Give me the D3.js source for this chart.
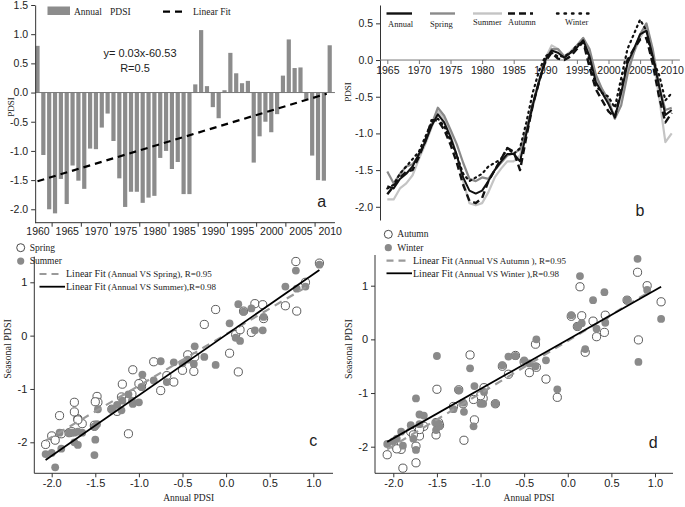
<!DOCTYPE html>
<html><head><meta charset="utf-8">
<script src="https://cdn.jsdelivr.net/npm/d3@7"></script>
<style>body{margin:0;background:#fff}svg{display:block}</style>
</head><body>
<svg id="chart" width="685" height="507"></svg>
<script>
// ---------------- DATA ----------------
const years = [1960,1961,1962,1963,1964,1965,1966,1967,1968,1969,1970,1971,1972,1973,1974,1975,1976,1977,1978,1979,1980,1981,1982,1983,1984,1985,1986,1987,1988,1989,1990,1991,1992,1993,1994,1995,1996,1997,1998,1999,2000,2001,2002,2003,2004,2005,2006,2007,2008,2009,2010];
const annualPDSI = [0.80,-1.07,-2.00,-2.07,-1.48,-1.91,-1.25,-1.51,-1.65,-0.96,-0.97,-0.60,-0.36,-0.83,-1.47,-1.96,-1.70,-1.70,-1.89,-1.80,-1.77,-1.12,-1.00,-1.31,-1.19,-1.74,-1.74,0.14,1.07,0.11,-0.25,-0.44,0.04,0.68,0.33,0.16,0.20,-1.20,-0.75,-0.50,-0.68,-0.37,0.29,0.91,0.42,0.43,-0.12,-1.08,-1.50,-1.51,0.81];
const fitYearsA = [1960, 2009.5];
const fitValuesA = [-1.52, -0.02];
const yearTicksA = [1960,1965,1970,1975,1980,1985,1990,1995,2000,2005,2010];

const yearsB = [1965,1966,1967,1968,1969,1970,1971,1972,1973,1974,1975,1976,1977,1978,1979,1980,1981,1982,1983,1984,1985,1986,1987,1988,1989,1990,1991,1992,1993,1994,1995,1996,1997,1998,1999,2000,2001,2002,2003,2004,2005,2006,2007,2008,2009,2010];
const annualB = [-1.72,-1.75,-1.62,-1.55,-1.45,-1.28,-1.12,-0.90,-0.74,-0.85,-1.05,-1.30,-1.60,-1.78,-1.82,-1.78,-1.65,-1.50,-1.38,-1.28,-1.28,-1.38,-1.00,-0.62,-0.30,0.00,0.13,0.10,0.03,0.10,0.17,0.27,0.05,-0.30,-0.45,-0.60,-0.78,-0.45,-0.05,0.15,0.35,0.40,0.05,-0.35,-0.75,-0.68];
const springB = [-1.52,-1.68,-1.55,-1.45,-1.42,-1.30,-1.12,-0.88,-0.65,-0.76,-0.95,-1.15,-1.40,-1.62,-1.65,-1.60,-1.62,-1.50,-1.40,-1.30,-1.27,-1.22,-0.95,-0.60,-0.28,-0.02,0.15,0.15,0.05,0.10,0.20,0.30,0.15,-0.20,-0.40,-0.55,-0.80,-0.62,-0.20,0.10,0.35,0.50,0.15,-0.35,-0.68,-0.65];
const summerB = [-1.90,-1.90,-1.75,-1.68,-1.57,-1.35,-1.15,-0.92,-0.70,-0.80,-1.02,-1.30,-1.65,-1.95,-1.98,-1.95,-1.80,-1.60,-1.48,-1.38,-1.38,-1.30,-1.00,-0.65,-0.30,0.02,0.20,0.15,0.05,0.12,0.20,0.30,0.10,-0.25,-0.40,-0.55,-0.80,-0.50,-0.15,0.10,0.30,0.45,0.05,-0.50,-1.12,-1.00];
const autumnB = [-1.83,-1.72,-1.60,-1.52,-1.50,-1.32,-1.10,-0.82,-0.82,-0.95,-1.15,-1.40,-1.70,-1.92,-1.95,-1.88,-1.65,-1.50,-1.35,-1.20,-1.25,-1.50,-1.05,-0.62,-0.30,-0.02,0.10,0.02,0.00,0.05,0.15,0.25,-0.10,-0.40,-0.55,-0.70,-0.78,-0.40,0.00,0.15,0.28,0.30,-0.05,-0.50,-0.85,-0.72];
const winterB = [-1.75,-1.70,-1.55,-1.45,-1.35,-1.25,-1.05,-0.85,-0.80,-0.90,-1.10,-1.30,-1.55,-1.65,-1.60,-1.55,-1.45,-1.40,-1.35,-1.20,-1.28,-1.20,-0.85,-0.45,-0.15,0.05,0.10,0.05,0.05,0.10,0.20,0.25,0.00,-0.35,-0.45,-0.50,-0.65,-0.25,0.15,0.35,0.55,0.40,0.00,-0.20,-0.55,-0.45];
const seriesNamesB = ["Annual","Spring","Summer","Autumn","Winter"];
const yearTicksB = [1965,1970,1975,1980,1985,1990,1995,2000,2005,2010];

const springPDSI = [1.39,-0.64,-1.88,-2.04,-1.14,-1.50,-1.42,-1.70,-1.65,-0.87,-0.95,-0.87,-0.40,-0.49,-1.25,-1.96,-1.56,-1.58,-1.84,-1.82,-1.80,-1.84,-0.90,-1.38,-0.91,-1.25,-1.43,-0.68,1.36,0.02,0.21,-0.36,-0.33,0.56,0.60,0.11,0.46,-1.15,-1.03,-0.65,-0.75,-0.67,0.06,1.00,0.58,0.32,0.49,-1.10,-1.24,-1.68,0.46];
const summerPDSI = [1.22,-1.28,-2.20,-2.22,-1.66,-1.82,-1.30,-2.24,-1.82,-0.73,-0.96,-0.50,-0.20,-0.84,-1.38,-2.47,-2.05,-1.80,-2.12,-1.82,-1.82,-1.10,-1.25,-1.38,-1.22,-2.00,-1.82,0.59,1.33,-0.04,-0.40,-0.45,0.23,0.92,0.10,-0.10,0.45,-1.40,-0.48,-0.52,-0.87,-0.53,0.51,0.92,0.10,0.35,-0.55,-1.22,-1.95,-1.70,0.88];
const autumnPDSI = [1.25,-1.50,-1.95,-2.15,-1.55,-2.05,-0.94,-1.78,-1.62,-0.90,-1.10,-0.30,-0.52,-1.20,-1.60,-2.04,-1.80,-1.68,-2.40,-1.72,-1.78,-0.29,-1.05,-1.25,-1.88,-2.30,-1.99,0.98,0.70,0.24,-0.74,-0.62,0.43,0.73,0.05,0.44,-0.24,-1.20,-0.50,-0.42,-0.65,-0.09,0.34,1.00,0.13,0.45,-1.08,-1.12,-0.93,-1.55,-0.01];
const winterPDSI = [1.50,-0.87,-1.90,-1.95,-1.57,-1.72,-0.95,-1.69,-1.42,-0.98,-1.20,-0.31,0.00,-1.20,-1.62,-1.85,-1.40,-1.58,-1.98,-1.60,-1.85,-0.54,-1.20,-1.30,-1.35,-2.06,-1.10,1.18,0.38,0.24,-0.39,-0.45,0.45,0.73,0.20,0.30,-0.18,-1.18,-0.48,-0.39,-0.32,-0.50,0.73,0.92,0.88,0.31,-0.93,-1.62,-0.31,-1.55,-0.42];

const fitSpringX = [-2.07, 0.97], fitSpringY = [-1.97, 0.96];
const fitSummerX = [-2.07, 1.07], fitSummerY = [-2.33, 1.23];
const fitAutumnX = [-2.07, 0.95], fitAutumnY = [-2.05, 0.90];
const fitWinterX = [-2.07, 1.07], fitWinterY = [-1.91, 0.98];
const scatterXTicks = [-2.0,-1.5,-1.0,-0.5,0.0,0.5,1.0];
const scatterYTicks = [-2,-1,0,1];

// ---------------- DRAWING ----------------
const SANS = "'Liberation Sans', Arial, sans-serif";
const SERIF = "'Liberation Serif', 'Times New Roman', serif";
const AX = "#333";
const svg = d3.select("#chart");
const f1 = d => d.toFixed(1);

function styleAxis(g, size) {
  g.selectAll("path").attr("stroke", AX).attr("stroke-width", 1);
  g.selectAll("line").attr("stroke", AX).attr("stroke-width", 1);
  g.selectAll("text").attr("font-family", SANS).attr("font-size", size || 10.5).attr("fill", "#222");
}
function txt(x, y, s, opt) {
  opt = opt || {};
  return svg.append("text").attr("x", x).attr("y", y).text(s)
    .attr("font-family", opt.font || SERIF).attr("font-size", opt.size || 9.5)
    .attr("text-anchor", opt.anchor || "start").attr("fill", opt.fill || "#222")
    .attr("transform", opt.rotate ? `rotate(-90,${x},${y})` : null);
}

// ===== Panel a =====
const xA = d3.scaleLinear().domain([1960, 2010]).range([37.5, 329.7]);
const yA = d3.scaleLinear().domain([-2.23, 1.5]).range([222.7, 5]);
const gA = svg.append("g");
gA.selectAll("rect.bar").data(annualPDSI).enter().append("rect")
  .attr("x", (d, i) => xA(years[i]) - 2.1).attr("width", 4.2)
  .attr("y", d => yA(Math.max(0, d))).attr("height", d => Math.abs(yA(d) - yA(0)))
  .attr("fill", "#8c8c8c");
gA.append("line").attr("x1", xA(1959.6)).attr("x2", xA(2010.9)).attr("y1", yA(0)).attr("y2", yA(0))
  .attr("stroke", "#777").attr("stroke-width", 1);
const axAy = gA.append("g").attr("transform", `translate(${xA(1959.6)},0)`)
  .call(d3.axisLeft(yA).tickValues([-2,-1.5,-1,-0.5,0,0.5,1,1.5]).tickFormat(f1).tickSize(4).tickSizeOuter(0));
styleAxis(axAy);
const axAx = gA.append("g").attr("transform", `translate(0,${yA(-2.23)})`)
  .call(d3.axisBottom(xA).tickValues(yearTicksA).tickFormat(d => d).tickSize(0).tickPadding(5));
axAx.select("path").remove();
styleAxis(axAx);
gA.append("g").attr("transform", `translate(0,${yA(-2.23)})`)
  .selectAll("line").data(yearTicksA.slice(0, -1)).enter().append("line")
  .attr("x1", d => xA(d + 2.5)).attr("x2", d => xA(d + 2.5)).attr("y1", 0).attr("y2", 4).attr("stroke", AX);
gA.append("line").attr("x1", xA(1959.6)).attr("x2", xA(2010.9)).attr("y1", yA(-2.23)).attr("y2", yA(-2.23)).attr("stroke", AX);
gA.append("line").attr("x1", xA(fitYearsA[0])).attr("y1", yA(fitValuesA[0]))
  .attr("x2", xA(fitYearsA[1])).attr("y2", yA(fitValuesA[1]))
  .attr("stroke", "#000").attr("stroke-width", 2.2).attr("stroke-dasharray", "7,5");
// legend a
svg.append("rect").attr("x", 47.5).attr("y", 6.5).attr("width", 22.5).attr("height", 8.5).attr("fill", "#8c8c8c");
txt(74, 15, "Annual");
txt(110, 15, "PDSI");
svg.append("line").attr("x1", 163).attr("x2", 186).attr("y1", 11.7).attr("y2", 11.7)
  .attr("stroke", "#000").attr("stroke-width", 2.2).attr("stroke-dasharray", "7,5");
txt(193, 15, "Linear Fit");
txt(140, 57, "y= 0.03x-60.53", {font: SANS, size: 11, anchor: "middle"});
txt(135, 72, "R=0.5", {font: SANS, size: 11, anchor: "middle"});
txt(321.7, 207, "a", {font: SANS, size: 16, anchor: "middle"});
txt(14, 107, "PDSI", {size: 9, anchor: "middle", rotate: true});

// ===== Panel b =====
const xB = d3.scaleLinear().domain([1965, 2010]).range([387.3, 671.7]);
const yB = d3.scaleLinear().domain([-2.18, 0.75]).range([220, 5]);
const gB = svg.append("g");
const axBy = gB.append("g").attr("transform", `translate(380,0)`)
  .call(d3.axisLeft(yB).tickValues([-2,-1.5,-1,-0.5,0,0.5]).tickFormat(f1).tickSize(4).tickSizeOuter(0));
styleAxis(axBy);
const axBx = gB.append("g").attr("transform", `translate(0,${yB(0)})`)
  .call(d3.axisBottom(xB).tickValues(yearTicksB).tickFormat(d => d).tickSize(4).tickSizeOuter(0).tickPadding(3));
axBx.select("path").remove();
styleAxis(axBx);
axBx.selectAll("line").attr("stroke", "#777");
gB.append("line").attr("x1", 380).attr("x2", xB(2011.3)).attr("y1", yB(0)).attr("y2", yB(0)).attr("stroke", "#777");
const lineB = d3.line().x((d, i) => xB(yearsB[i])).y(d => yB(d));
const specB = [
  {data: summerB, color: "#c4c4c4", dash: null, w: 2.2},
  {data: springB, color: "#8a8a8a", dash: null, w: 2.2},
  {data: winterB, color: "#111", dash: "1.5,4", w: 2.2, cap: "round"},
  {data: autumnB, color: "#111", dash: "7,4", w: 2.4},
  {data: annualB, color: "#111", dash: null, w: 2}
];
specB.forEach(s => {
  gB.append("path").datum(s.data).attr("d", lineB).attr("fill", "none")
    .attr("stroke", s.color).attr("stroke-width", s.w).attr("stroke-dasharray", s.dash)
    .attr("stroke-linecap", s.cap || "butt").attr("stroke-linejoin", "round");
});
// legend b
const legB = [
  {x1: 386.5, x2: 412, color: "#111", dash: null, tx: 388, ty: 27},
  {x1: 430, x2: 455, color: "#8a8a8a", dash: null, tx: 430, ty: 27},
  {x1: 473, x2: 502, color: "#c4c4c4", dash: null, tx: 473, ty: 25},
  {x1: 508, x2: 533, color: "#111", dash: "7,4", tx: 508, ty: 25},
  {x1: 557, x2: 593, color: "#111", dash: "1.5,6", tx: 565, ty: 25, cap: "round"}
];
legB.forEach((l, i) => {
  svg.append("line").attr("x1", l.x1).attr("x2", l.x2).attr("y1", 13.5).attr("y2", 13.5)
    .attr("stroke", l.color).attr("stroke-width", 2.4).attr("stroke-dasharray", l.dash)
    .attr("stroke-linecap", l.cap || "butt");
  txt(l.tx, l.ty, seriesNamesB[i], {size: 8.5});
});
txt(640, 216, "b", {font: SANS, size: 16, anchor: "middle"});
txt(351, 92, "PDSI", {size: 9, anchor: "middle", rotate: true});

// ===== Scatter panels =====
function scatterPanel(o) {
  const x = d3.scaleLinear().domain([-2, 1]).range(o.xr);
  const y = d3.scaleLinear().domain([-2, 1]).range(o.yr);
  const g = svg.append("g");
  const ay = g.append("g").attr("transform", `translate(${o.left},0)`)
    .call(d3.axisLeft(y).tickValues(scatterYTicks).tickFormat(d => d).tickSize(4).tickSizeOuter(0));
  ay.select("path").remove();
  styleAxis(ay, 11);
  const ax = g.append("g").attr("transform", `translate(0,${o.bottom})`)
    .call(d3.axisBottom(x).tickValues(scatterXTicks).tickFormat(f1).tickSize(4).tickSizeOuter(0).tickPadding(2));
  ax.select("path").remove();
  styleAxis(ax, 11);
  g.append("line").attr("x1", o.left).attr("x2", o.left).attr("y1", o.top).attr("y2", o.bottom).attr("stroke", AX);
  g.append("line").attr("x1", o.left).attr("x2", o.right).attr("y1", o.bottom).attr("y2", o.bottom).attr("stroke", AX);
  g.selectAll("circle.open").data(o.openVals).enter().append("circle")
    .attr("cx", (d, i) => x(annualPDSI[i])).attr("cy", d => y(d)).attr("r", 4.1)
    .attr("fill", "#fff").attr("stroke", "#4a4a4a").attr("stroke-width", 0.9);
  g.selectAll("circle.fill").data(o.fillVals).enter().append("circle")
    .attr("cx", (d, i) => x(annualPDSI[i])).attr("cy", d => y(d)).attr("r", 3.9)
    .attr("fill", "#8a8a8a");
  g.append("line").attr("x1", x(o.dashX[0])).attr("y1", y(o.dashY[0])).attr("x2", x(o.dashX[1])).attr("y2", y(o.dashY[1]))
    .attr("stroke", "#9a9a9a").attr("stroke-width", 2.2).attr("stroke-dasharray", "8,6");
  g.append("line").attr("x1", x(o.solidX[0])).attr("y1", y(o.solidY[0])).attr("x2", x(o.solidX[1])).attr("y2", y(o.solidY[1]))
    .attr("stroke", "#000").attr("stroke-width", 1.8);
  // legend
  const L = o.leg;
  svg.append("circle").attr("cx", L.cx).attr("cy", L.y).attr("r", 4).attr("fill", "#fff").attr("stroke", "#4a4a4a");
  txt(L.cx + 9, L.y + 3, o.openName, {size: 9.5});
  svg.append("circle").attr("cx", L.cx).attr("cy", L.y + 13.4).attr("r", 3.6).attr("fill", "#8a8a8a");
  txt(L.cx + 9, L.y + 16.4, o.fillName, {size: 9.5});
  svg.append("line").attr("x1", L.lx1).attr("x2", L.lx2 - 2).attr("y1", L.y + 26.3).attr("y2", L.y + 26.3)
    .attr("stroke", "#9a9a9a").attr("stroke-width", 2.2).attr("stroke-dasharray", "7,5");
  const t1 = txt(L.tx, L.y + 29.6, "", {size: 10});
  t1.append("tspan").text("Linear Fit");
  t1.append("tspan").attr("font-size", 9).text("  " + o.dashText);
  svg.append("line").attr("x1", L.lx1).attr("x2", L.lx2).attr("y1", L.y + 39).attr("y2", L.y + 39)
    .attr("stroke", "#000").attr("stroke-width", 1.8);
  const t2 = txt(L.tx, L.y + 42.3, "", {size: 10});
  t2.append("tspan").text("Linear Fit");
  t2.append("tspan").attr("font-size", 9).text("  " + o.solidText);
  txt(o.letterX, o.letterY, o.letter, {font: SANS, size: 16, anchor: "middle"});
  txt((o.left + o.right) / 2 + 5, 501, "Annual PDSI", {size: 9.5, anchor: "middle"});
  txt(o.left - 23, 349, "Seasonal PDSI", {size: 10, anchor: "middle", rotate: true});
}

scatterPanel({
  xr: [51.7, 313.3], yr: [442.3, 282.3], left: 34.3, right: 333, top: 256.7, bottom: 473.3,
  openVals: springPDSI, fillVals: summerPDSI,
  dashX: fitSpringX, dashY: fitSpringY, solidX: fitSummerX, solidY: fitSummerY,
  leg: {cx: 20.7, y: 247.7, lx1: 39.5, lx2: 65, tx: 66},
  openName: "Spring", fillName: "Summer",
  dashText: "(Annual VS Spring), R=0.95", solidText: "(Annual VS Summer),R=0.98",
  letter: "c", letterX: 313.3, letterY: 446
});
scatterPanel({
  xr: [393.3, 655], yr: [446.7, 285.7], left: 375, right: 673, top: 255, bottom: 473.3,
  openVals: autumnPDSI, fillVals: winterPDSI,
  dashX: fitAutumnX, dashY: fitAutumnY, solidX: fitWinterX, solidY: fitWinterY,
  leg: {cx: 388.3, y: 234.3, lx1: 386.5, lx2: 412, tx: 413},
  openName: "Autumn", fillName: "Winter",
  dashText: "(Annual VS Autumn ), R=0.95", solidText: "(Annual VS Winter ),R=0.98",
  letter: "d", letterX: 653.3, letterY: 448
});
</script>
</body></html>
